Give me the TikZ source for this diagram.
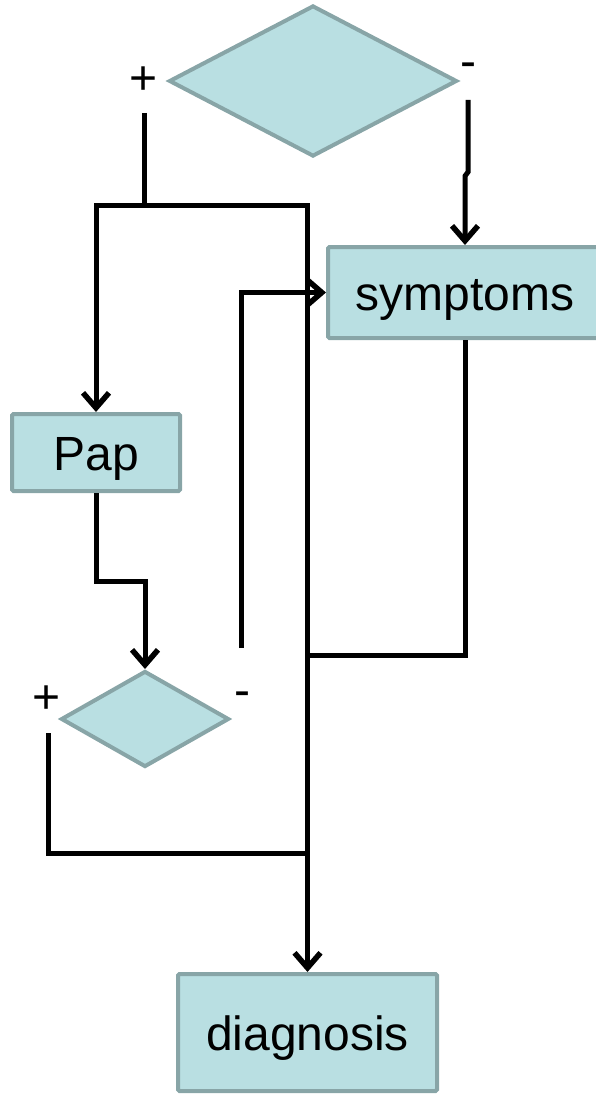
\documentclass[tikz,border=0pt]{standalone}
\usepackage{fontspec}
\setmainfont{Liberation Sans}
\usetikzlibrary{shapes.geometric,arrows.meta}

\definecolor{boxfill}{HTML}{B9DFE2}
\definecolor{boxline}{HTML}{88A5A7}

\tikzset{
  box/.style={draw=boxline, fill=boxfill, line width=4pt, rounded corners=1.5pt,
    inner sep=0pt, text height=35pt, text depth=0pt,
    font=\fontsize{48}{56}\selectfont},
  choice/.style={diamond, draw=boxline, fill=boxfill, line width=4pt, inner sep=0pt},
  sign/.style={anchor=base, inner sep=0pt, font=\fontsize{48}{56}\selectfont},
  link/.style={line width=5pt, black},
  tip/.style={-{Straight Barb[length=15pt,width=26pt,line width=5.5pt]}}
}

\begin{document}
\begin{tikzpicture}[x=1pt,y=-1pt]
  \useasboundingbox (0,0) rectangle (595,1094);

  % decision shapes
  \node[choice, minimum width=288pt, minimum height=151pt] (top) at (313,81) {};
  \node[choice, minimum width=168pt, minimum height=96pt] (low) at (145,719) {};

  % process boxes
  \node[box, minimum width=274pt, minimum height=91pt] (symptoms) at (465,292.5) {symptoms};
  \node[box, minimum width=168pt, minimum height=77pt] (pap) at (96,452.5) {Pap};
  \node[box, minimum width=259pt, minimum height=117pt] (diag) at (307.5,1032.5) {diagnosis};

  % branch signs
  \node[sign] (tplus) at (144,95) {+};
  \node[sign] (tminus) at (468,78) {-};
  \node[sign] (lplus) at (47,713.5) {+};
  \node[sign] (lminus) at (242,706) {-};

  % free ends of the branches
  \coordinate (tp) at (144,113);
  \coordinate (tm) at (468,100);
  \coordinate (lp) at (48,733);
  \coordinate (lm) at (241,648);
  \coordinate (split) at (144,205);
  \coordinate (joinA) at (307.5,655);
  \coordinate (joinB) at (307.5,853);
  \coordinate (bend) at (96,581);

  % positive branch of the top decision
  \draw[link] (tp) -- (split);
  \draw[link,tip] (split) -| (pap.north);
  \draw[link,tip] (split) -| (diag.north);

  % negative branch of the top decision
  \draw[link,tip] (tm) -- ++(0,72) -- ++(-3,4) -- (symptoms.north);

  % Pap result to the lower decision
  \draw[link,tip] (pap.south) -- (bend) -| (low.north);

  % negative branch of the lower decision
  \draw[link,tip] (lm) |- (symptoms.west);

  % symptoms and positive branch join the trunk
  \draw[link] (symptoms.south) |- (joinA);
  \draw[link] (lp) |- (joinB);
\end{tikzpicture}
\end{document}
